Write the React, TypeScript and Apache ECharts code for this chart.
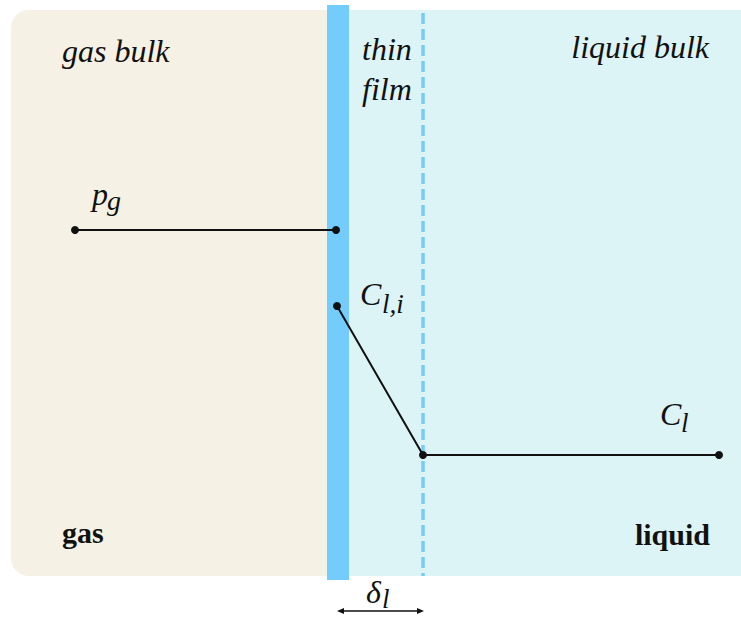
import React, { useEffect, useRef } from "react";
import * as echarts from "echarts";

// ---- data (diagram coordinates: x = position, y = level, origin top-left) ----
const regionNames = ["gas", "liquid"];
const regionX0 = [11, 348];
const regionX1 = [327, 780];
const regionY0 = [10, 10];
const regionY1 = [576, 576];

const interfaceX = [327, 349];
const interfaceY = [5, 580];

const filmEdgeX = [423, 423];
const filmEdgeY = [13, 576];

const gasProfileX = [75, 336];
const gasProfileY = [230, 230];

const liquidProfileX = [337, 423, 719];
const liquidProfileY = [306, 455, 455];

const deltaX = [337, 424];
const deltaY = [611, 611];

const W = 741;
const H = 617;

const regionColors = ["#F5F1E4", "#DDF4F7"];
const blue = "#74CCFC";
const serif = "Liberation Serif";

function txt(text: string, x: number, baseline: number, size: number, opts: any = {}) {
  const style: any = {
    text,
    fill: "#111",
    fontFamily: serif,
    fontSize: size,
    align: opts.align || "left",
    verticalAlign: "middle",
  };
  if (opts.bold) style.fontWeight = "bold";
  else style.fontStyle = "italic";
  return {
    type: "text",
    x,
    y: baseline - 0.34 * size,
    z: 100,
    style,
  };
}

export default function App() {
  const ref = useRef<HTMLDivElement>(null);

  useEffect(() => {
    if (!ref.current) return;
    const chart = echarts.init(ref.current, null, { renderer: "svg" });

    const option: any = {
      animation: false,
      backgroundColor: "#ffffff",
      grid: { left: 0, right: 0, top: 0, bottom: 0 },
      xAxis: { type: "value", min: 0, max: W, show: false },
      yAxis: { type: "value", min: 0, max: H, inverse: true, show: false },
      series: [
        {
          type: "custom",
          name: "regions",
          clip: false,
          z: 1,
          data: regionNames.map((_, i) => [regionX0[i], regionY0[i], regionX1[i], regionY1[i]]),
          renderItem: (params: any, api: any) => {
            const i = params.dataIndex;
            const p0 = api.coord([api.value(0), api.value(1)]);
            const p1 = api.coord([api.value(2), api.value(3)]);
            return {
              type: "rect",
              shape: {
                x: p0[0],
                y: p0[1],
                width: p1[0] - p0[0],
                height: p1[1] - p0[1],
                r: i === 0 ? [18, 0, 0, 18] : [0, 18, 18, 0],
              },
              style: { fill: regionColors[i] },
            };
          },
        },
        {
          type: "custom",
          name: "interface",
          clip: false,
          z: 2,
          data: [[interfaceX[0], interfaceY[0], interfaceX[1], interfaceY[1]]],
          renderItem: (_p: any, api: any) => {
            const p0 = api.coord([api.value(0), api.value(1)]);
            const p1 = api.coord([api.value(2), api.value(3)]);
            return {
              type: "rect",
              shape: { x: p0[0], y: p0[1], width: p1[0] - p0[0], height: p1[1] - p0[1] },
              style: { fill: blue },
            };
          },
        },
        {
          type: "custom",
          name: "film edge",
          clip: false,
          z: 2,
          data: [[filmEdgeX[0], filmEdgeY[0], filmEdgeX[1], filmEdgeY[1]]],
          renderItem: (_p: any, api: any) => {
            const p0 = api.coord([api.value(0), api.value(1)]);
            const p1 = api.coord([api.value(2), api.value(3)]);
            return {
              type: "line",
              shape: { x1: p0[0], y1: p0[1], x2: p1[0], y2: p1[1] },
              style: { stroke: blue, lineWidth: 3.5, lineDash: [11, 5] },
            };
          },
        },
        {
          type: "custom",
          name: "delta",
          clip: false,
          z: 3,
          data: [[deltaX[0], deltaY[0], deltaX[1], deltaY[1]]],
          renderItem: (_p: any, api: any) => {
            const p0 = api.coord([api.value(0), api.value(1)]);
            const p1 = api.coord([api.value(2), api.value(3)]);
            const hl = 7;
            const hw = 3;
            return {
              type: "group",
              children: [
                {
                  type: "line",
                  shape: { x1: p0[0] + 2, y1: p0[1], x2: p1[0] - 2, y2: p1[1] },
                  style: { stroke: "#111", lineWidth: 1.3 },
                },
                {
                  type: "polygon",
                  shape: { points: [[p0[0], p0[1]], [p0[0] + hl, p0[1] - hw], [p0[0] + hl, p0[1] + hw]] },
                  style: { fill: "#111" },
                },
                {
                  type: "polygon",
                  shape: { points: [[p1[0], p1[1]], [p1[0] - hl, p1[1] - hw], [p1[0] - hl, p1[1] + hw]] },
                  style: { fill: "#111" },
                },
              ],
            };
          },
        },
        {
          type: "line",
          name: "gas profile",
          clip: false,
          z: 5,
          data: gasProfileX.map((x, i) => [x, gasProfileY[i]]),
          symbol: "circle",
          symbolSize: 8,
          lineStyle: { color: "#111", width: 2 },
          itemStyle: { color: "#111" },
        },
        {
          type: "line",
          name: "liquid profile",
          clip: false,
          z: 5,
          data: liquidProfileX.map((x, i) => [x, liquidProfileY[i]]),
          symbol: "circle",
          symbolSize: 8,
          lineStyle: { color: "#111", width: 2 },
          itemStyle: { color: "#111" },
        },
      ],
      graphic: [
        txt("gas bulk", 62, 62, 32),
        txt("thin", 362, 60, 32),
        txt("film", 362, 100, 32),
        txt("liquid bulk", 709, 58, 32, { align: "right" }),
        txt("p", 92, 205, 32),
        txt("g", 107, 210, 28),
        txt("C", 360, 305, 32),
        txt("l,i", 382, 313, 27),
        txt("C", 660, 425, 32),
        txt("l", 681, 432, 27),
        txt("gas", 62, 543, 30, { bold: true }),
        txt("liquid", 710, 545, 30, { bold: true, align: "right" }),
        txt("δ", 366, 603, 32),
        txt("l", 382, 608, 27),
      ],
    };

    chart.setOption(option);
    return () => chart.dispose();
  }, []);

  return (
    <div
      ref={ref}
      style={{ position: "fixed", left: 0, top: 0, width: W, height: H }}
    />
  );
}
